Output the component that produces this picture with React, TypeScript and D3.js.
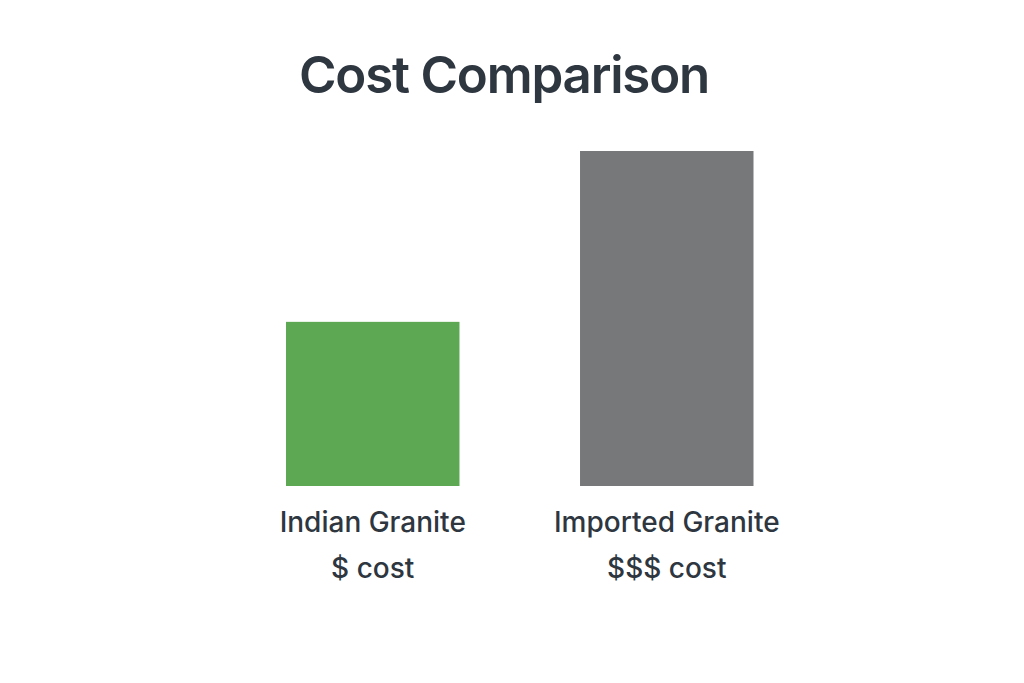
import React from "react";
import * as d3 from "d3";

const title = "Cost Comparison";
const categories = ["Indian Granite", "Imported Granite"];
const costLabels = ["$ cost", "$$$ cost"];
const relativeCost = [49, 100];
const barColors = ["#5da853", "#77787a"];

const W = 1024;
const H = 683;

export default function App() {
  const x = d3
    .scaleBand<string>()
    .domain(categories)
    .range([286, 753.5])
    .paddingInner(0.41)
    .paddingOuter(0);
  const y = d3.scaleLinear().domain([0, 100]).range([486, 151]);
  const ink = "#2e3640";
  return (
    <svg
      width={W}
      height={H}
      style={{ position: "absolute", left: 0, top: 0, background: "#fff" }}
      fontFamily="Inter, 'Noto Sans', sans-serif"
    >
      <rect width={W} height={H} fill="#fff" />
      <text
        x={504}
        y={93}
        textAnchor="middle"
        fontSize={51}
        fontWeight={600}
        letterSpacing={-1.2}
        fill={ink}
      >
        {title}
      </text>
      {categories.map((c, i) => {
        const bx = x(c)!;
        const cx = bx + x.bandwidth() / 2;
        return (
          <g key={c}>
            <rect
              x={bx}
              y={y(relativeCost[i])}
              width={x.bandwidth()}
              height={y(0) - y(relativeCost[i])}
              fill={barColors[i]}
            />
            <text x={cx} y={531.5} textAnchor="middle" fontSize={28} fontWeight={500} fill={ink}>
              {c}
            </text>
            <text x={cx} y={578} textAnchor="middle" fontSize={28} fontWeight={500} fill={ink}>
              {costLabels[i]}
            </text>
          </g>
        );
      })}
    </svg>
  );
}
